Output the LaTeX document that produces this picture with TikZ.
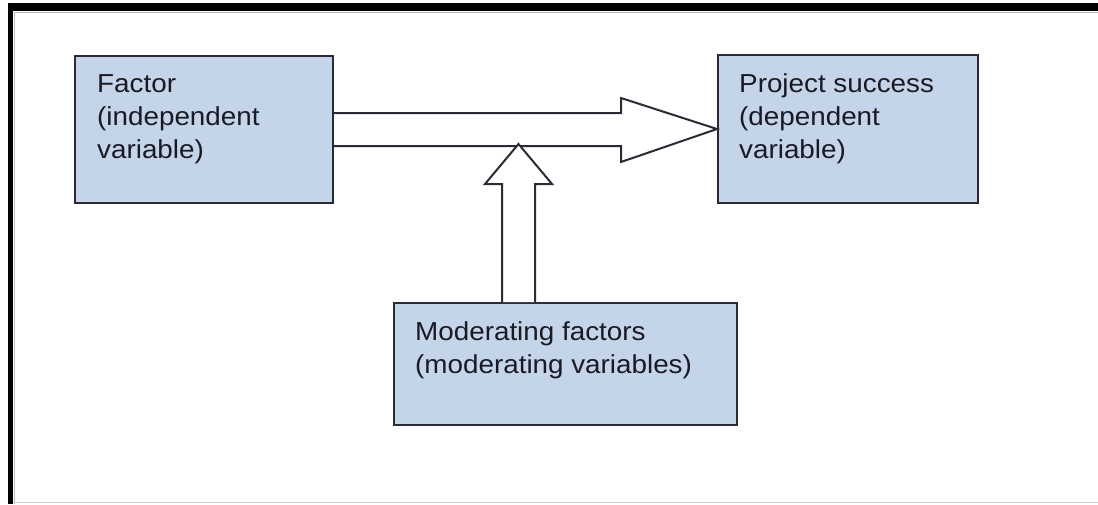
\documentclass[tikz,border=0pt]{standalone}
\usepackage{fontspec}
\setmainfont[FakeStretch=1.07]{Liberation Sans}
\usetikzlibrary{calc}
\definecolor{boxfill}{HTML}{C5D5E9}
\definecolor{boxline}{HTML}{2B2B35}
\definecolor{txtcol}{HTML}{1A1A24}
\definecolor{framegray}{HTML}{BBBBBB}
\tikzset{
  box/.style={draw=boxline, line width=2pt, fill=boxfill, rectangle, inner sep=0pt, anchor=north west},
  txt/.style={anchor=north west, inner sep=0pt, align=left, text=txtcol, font=\fontsize{26}{33}\selectfont},
  blockarrow/.style={draw=boxline, line width=2pt, fill=white, line join=miter}
}
\begin{document}
\begin{tikzpicture}[x=1pt, y=-1pt]
\useasboundingbox (0,0) rectangle (1098,504);
% frame
\fill[black] (8,3) rectangle (1098,11);
\fill[black] (8,3) rectangle (13,504);
\draw[framegray, line width=1pt] (13.5,12) -- (1098,12);
\draw[framegray, line width=1pt] (14,12) -- (14,504);
\draw[framegray!70, line width=1.2pt] (13,502.5) -- (1098,502.5);
% boxes
\node[box, minimum width=258pt, minimum height=147pt] (f) at (74,55) {};
\node[box, minimum width=260pt, minimum height=148pt] (p) at (717,54) {};
\node[box, minimum width=343pt, minimum height=122pt] (m) at (393,302) {};
% texts
\node[txt] (ft) at (97,74) {Factor\\(independent\\variable)};
\node[txt] (pt) at (739,73) {Project success\\(dependent\\variable)};
\node[txt] (mt) at (415,321) {Moderating factors\\(moderating variables)};
% main block arrow
\coordinate (tip) at (p.west);
\draw[blockarrow] (f.east |- 0,113) -- (621,113) -- (621,98) -- (tip) -- (621,162) -- (621,146) -- (f.east |- 0,146);
% moderating block arrow
\coordinate (utip) at (518.5,144);
\draw[blockarrow] (502,0 |- m.north) -- (502,184) -- (485,184) -- (utip) -- (552,184) -- (535,184) -- (535,0 |- m.north);
\end{tikzpicture}
\end{document}
